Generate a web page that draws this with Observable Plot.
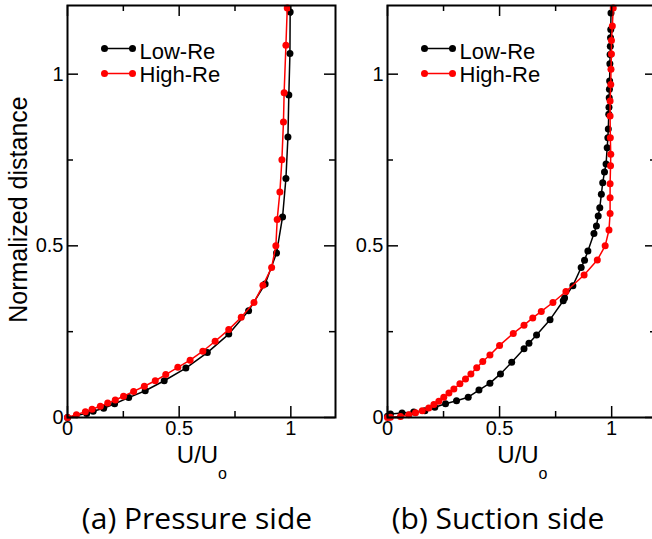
<!DOCTYPE html>
<html><head><meta charset="utf-8">
<script src="https://cdn.jsdelivr.net/npm/d3@7"></script>
<script src="https://cdn.jsdelivr.net/npm/@observablehq/plot@0.6"></script>
<style>
body{margin:0;background:#fff;}
#wrap{position:relative;width:652px;height:539px;overflow:hidden;background:#fff;}
.panel{position:absolute;top:0;height:490px;}
.panel svg{max-width:none !important;position:absolute;left:0;top:0;}
.cap{position:absolute;top:503px;font-family:"Open Sans",sans-serif;font-size:30px;line-height:30px;transform:translateX(-50%);white-space:nowrap;color:#000;}
</style></head><body>
<div id="wrap"></div>
<script>
// ---- tick values / labels ----
const majorTicks = [0, 0.5, 1];
const minorTicks = [0.25, 0.75];
const tickLabels = ["0", "0.5", "1"];
const seriesNames = ["Low-Re", "High-Re"];
const seriesColors = ["#000000", "#ff0000"];
const panelCaptions = ["(a) Pressure side", "(b) Suction side"];
const yTitle = "Normalized distance";
const xTitleMain = "U/U";
const xTitleSub = "o";

// ---- (a) Pressure side ----
const pressureLowU  = [0, 0.086, 0.115, 0.162, 0.211, 0.274, 0.348, 0.433, 0.530, 0.626, 0.722, 0.811, 0.885, 0.936, 0.963, 0.978, 0.987, 0.991, 0.996, 0.997];
const pressureLowD  = [0, 0.012, 0.018, 0.027, 0.040, 0.058, 0.078, 0.107, 0.144, 0.189, 0.243, 0.311, 0.389, 0.479, 0.584, 0.696, 0.817, 0.939, 1.060, 1.181];
const pressureHighU = [0, 0.040, 0.080, 0.110, 0.147, 0.180, 0.214, 0.251, 0.296, 0.344, 0.393, 0.440, 0.494, 0.549, 0.606, 0.661, 0.722, 0.778, 0.835, 0.875, 0.914, 0.933, 0.939, 0.951, 0.960, 0.967, 0.970, 0.978, 0.984];
const pressureHighD = [0, 0.008, 0.017, 0.024, 0.033, 0.042, 0.051, 0.062, 0.076, 0.091, 0.107, 0.125, 0.146, 0.167, 0.193, 0.222, 0.256, 0.292, 0.335, 0.385, 0.437, 0.500, 0.577, 0.657, 0.751, 0.861, 0.946, 1.084, 1.193];

// ---- (b) Suction side ----
const suctionLowU  = [0, 0.013, 0.065, 0.117, 0.167, 0.211, 0.259, 0.308, 0.360, 0.408, 0.457, 0.504, 0.554, 0.609, 0.631, 0.665, 0.725, 0.784, 0.790, 0.827, 0.864, 0.879, 0.894, 0.921, 0.932, 0.940, 0.947, 0.954, 0.960, 0.968, 0.975, 0.980, 0.983, 0.985, 0.987, 0.988, 0.989, 0.990, 0.991, 0.992, 0.993, 0.994, 0.995, 0.996, 0.997];
const suctionLowD  = [0.004, 0.010, 0.013, 0.016, 0.020, 0.030, 0.040, 0.049, 0.059, 0.080, 0.100, 0.127, 0.161, 0.200, 0.216, 0.240, 0.285, 0.340, 0.348, 0.384, 0.437, 0.458, 0.485, 0.536, 0.558, 0.587, 0.611, 0.650, 0.684, 0.715, 0.738, 0.786, 0.815, 0.840, 0.883, 0.904, 0.931, 0.956, 0.980, 1.030, 1.057, 1.081, 1.106, 1.130, 1.178];
const suctionHighU = [0, 0.013, 0.058, 0.095, 0.125, 0.155, 0.184, 0.207, 0.229, 0.251, 0.274, 0.296, 0.323, 0.348, 0.372, 0.398, 0.425, 0.457, 0.500, 0.561, 0.609, 0.648, 0.686, 0.738, 0.796, 0.877, 0.936, 0.971, 0.988, 0.993, 0.993, 0.993, 0.995, 0.996, 0.994, 0.993, 0.993, 0.996, 0.997, 0.999, 0.999, 1.003, 1.007];
const suctionHighD = [0, 0.001, 0.003, 0.008, 0.014, 0.020, 0.028, 0.038, 0.047, 0.059, 0.071, 0.083, 0.098, 0.112, 0.127, 0.145, 0.163, 0.182, 0.210, 0.245, 0.269, 0.290, 0.309, 0.335, 0.367, 0.415, 0.459, 0.500, 0.546, 0.594, 0.640, 0.681, 0.733, 0.767, 0.815, 0.878, 0.922, 0.970, 1.014, 1.059, 1.098, 1.140, 1.193];

const FONT = "'Liberation Sans', Arial, Helvetica, sans-serif";
const HEIGHT = 490, MT = 5, MB = 73, ML = 67;
const DOMAIN = [0, 1.2];
const hLine = {draw(ctx, l) { ctx.moveTo(0, 0); ctx.lineTo(l, 0); }};
const lbl = d => tickLabels[majorTicks.indexOf(d)];

// inward mirror ticks on all four sides: rules inset to a fixed pixel length
function inwardTicks(values, len, fw, fh) {
  const o = {stroke: "#000", strokeWidth: 1.5};
  return [
    Plot.ruleX(values, {...o, x: d => d, insetTop: fh - len}),
    Plot.ruleX(values, {...o, x: d => d, insetBottom: fh - len}),
    Plot.ruleY(values, {...o, y: d => d, insetRight: fw - len}),
    Plot.ruleY(values, {...o, y: d => d, insetLeft: fw - len})
  ];
}

function baseOptions(width, marginRight, marks) {
  return {
    width, height: HEIGHT,
    marginLeft: ML, marginRight, marginTop: MT, marginBottom: MB,
    style: {background: "transparent", fontFamily: FONT, overflow: "visible", color: "#000", maxWidth: "none"},
    x: {domain: DOMAIN, axis: null},
    y: {domain: DOMAIN, axis: null},
    marks
  };
}

function panel(series, {width, marginRight, showYTitle}) {
  const marks = [];
  series.forEach(([U, D], k) => {
    const data = U.map((u, i) => ({u, d: D[i]}));
    marks.push(Plot.line(data, {x: "u", y: "d", stroke: seriesColors[k], strokeWidth: 1.5, clip: true}));
    marks.push(Plot.dot(data, {x: "u", y: "d", fill: seriesColors[k], r: 3.5}));
  });
  marks.push(Plot.axisX(majorTicks, {anchor: "bottom", tickSize: 0, tickPadding: 3, tickFormat: lbl, label: null, fontSize: 20, fill: "#000"}));
  marks.push(Plot.axisY(majorTicks, {anchor: "left", tickSize: 0, tickPadding: 4, tickFormat: lbl, label: null, fontSize: 20, fill: "#000"}));
  marks.push(Plot.frame({stroke: "#000", strokeWidth: 2}));
  seriesNames.forEach((name, k) => {
    const dyL = 43 + k * 25;
    marks.push(Plot.vector([name], {frameAnchor: "top-left", dx: 37, dy: dyL, length: 28, rotate: 0, anchor: "start", shape: hLine, stroke: seriesColors[k], strokeWidth: 1.5}));
    marks.push(Plot.dot([name], {frameAnchor: "top-left", dx: 37, dy: dyL, r: 3.5, fill: seriesColors[k]}));
    marks.push(Plot.dot([name], {frameAnchor: "top-left", dx: 65, dy: dyL, r: 3.5, fill: seriesColors[k]}));
    marks.push(Plot.text([name], {frameAnchor: "top-left", dx: 72, dy: 46 + k * 23, textAnchor: "start", lineAnchor: "middle", fontSize: 22, fill: "#000"}));
  });
  marks.push(Plot.text([xTitleMain], {frameAnchor: "bottom", dx: -4, dy: 38, fontSize: 24, textAnchor: "middle", lineAnchor: "middle", fill: "#000"}));
  marks.push(Plot.text([xTitleSub], {frameAnchor: "bottom", dx: 21, dy: 56, fontSize: 16, textAnchor: "middle", lineAnchor: "middle", fill: "#000"}));
  if (showYTitle) {
    marks.push(Plot.text([yTitle], {frameAnchor: "left", dx: -49, dy: -2, rotate: -90, fontSize: 25, textAnchor: "middle", lineAnchor: "middle", fill: "#000"}));
  }
  return Plot.plot(baseOptions(width, marginRight, marks));
}

// separate overlay plot, same scales and frame, holding the inward ticks
function tickLayer(width, marginRight) {
  const fw = width - ML - marginRight, fh = HEIGHT - MT - MB;
  return Plot.plot(baseOptions(width, marginRight, [
    ...inwardTicks(majorTicks, 11, fw, fh),
    ...inwardTicks(minorTicks, 6, fw, fh)
  ]));
}

const wrap = document.getElementById("wrap");
const specs = [
  {series: [[pressureLowU, pressureLowD], [pressureHighU, pressureHighD]], width: 345, marginRight: 10, showYTitle: true, left: 0},
  {series: [[suctionLowU, suctionLowD], [suctionHighU, suctionHighD]], width: 340, marginRight: 4, showYTitle: false, left: 320}
];
specs.forEach(s => {
  const div = document.createElement("div");
  div.className = "panel";
  div.style.left = s.left + "px";
  div.style.width = s.width + "px";
  div.appendChild(panel(s.series, s));
  div.appendChild(tickLayer(s.width, s.marginRight));
  wrap.appendChild(div);
});
const capX = [197, 498];
panelCaptions.forEach((t, i) => {
  const c = document.createElement("div");
  c.className = "cap"; c.style.left = capX[i] + "px"; c.textContent = t;
  wrap.appendChild(c);
});
</script>
</body></html>
